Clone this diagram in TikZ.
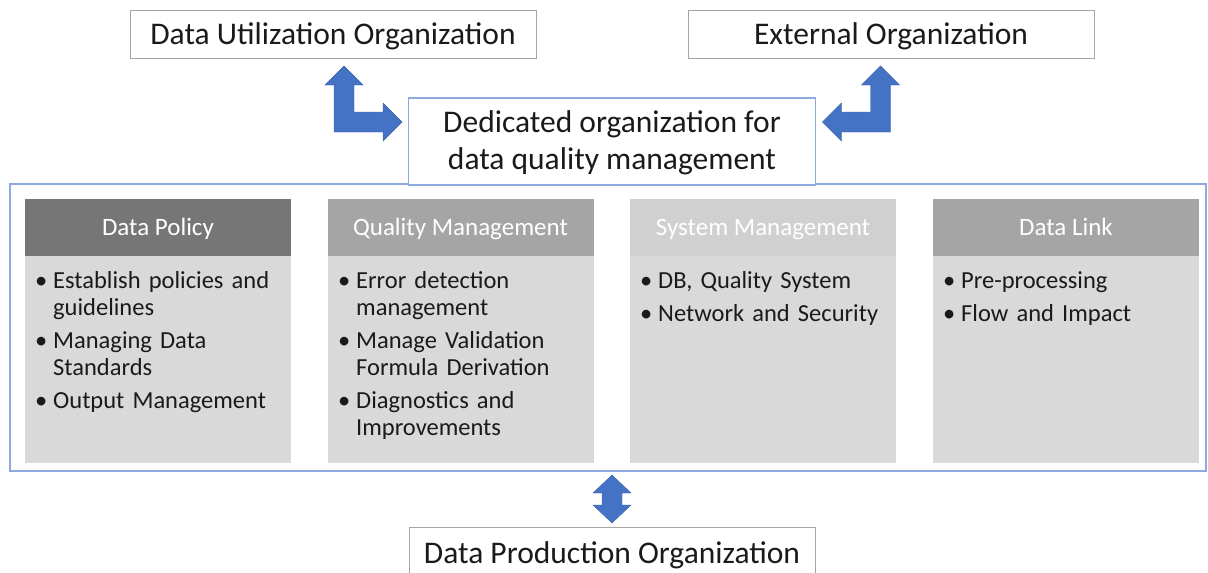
\documentclass[tikz,border=0pt]{standalone}
\usepackage{fontspec}
\setmainfont{Carlito}
\definecolor{arrowblue}{HTML}{4472C4}
\definecolor{frameblue}{HTML}{8FAADC}
\definecolor{boxgray}{HTML}{A6A6A6}
\definecolor{hdrdark}{HTML}{767676}
\definecolor{hdrmid}{HTML}{A5A5A5}
\definecolor{hdrlight}{HTML}{D0D0D0}
\definecolor{bodygray}{HTML}{D9D9D9}
\definecolor{txt}{HTML}{1A1A1A}
\newcommand{\bitem}[1]{\par\hangindent=15pt\hangafter=1\noindent\makebox[15pt][l]{\hspace{-3pt}\textbullet}#1\par\vspace{6pt}}
\begin{document}
\begin{tikzpicture}[x=1pt,y=-1pt,
  orgbox/.style={draw=boxgray, line width=1pt, fill=white, minimum width=406, minimum height=48,
    inner sep=0pt, text=txt, text height=22pt, text depth=0.6pt, font=\fontsize{31.5}{36}\selectfont},
  dedbox/.style={draw=frameblue, line width=1.2pt, fill=white, minimum width=407, minimum height=87,
    inner sep=0pt, align=center, text=txt, text depth=2.5pt, font=\fontsize{31.5}{37}\selectfont},
  frame/.style={draw=frameblue, line width=1.4pt, minimum width=1196, minimum height=287, inner sep=0pt},
  colhead/.style={minimum width=266, minimum height=57, inner sep=0pt, text=white,
    text height=20pt, text depth=5pt, font=\fontsize{25}{30}\selectfont},
  colbody/.style={fill=bodygray, minimum width=266, minimum height=207, inner sep=0pt},
  items/.style={anchor=north west, text width=255, inner sep=0pt, text=txt, align=left,
    font=\fontsize{24.5}{27}\selectfont},
  blockarrow/.style={fill=arrowblue, draw=arrowblue!85!black, line width=0.4pt}
]
\useasboundingbox (0,0) rectangle (1208,573);

% outer frame of the dedicated organization
\node[frame] (frame) at (608,327.5) {};
\node[dedbox] (ded) at (612,141.5) {Dedicated organization for\\data quality management};

% partner organizations
\node[orgbox] (util) at (333,34) {Data Utilization Organization};
\node[orgbox] (ext) at (891,34) {External Organization};
\node[orgbox, minimum height=70] (prod) at (612,562) {};
\node[text=txt, font=\fontsize{31.5}{36}\selectfont] (prodlbl) at (612,555) {Data Production Organization};

% four functional columns
\foreach \nm/\cx/\hc/\ttl in {pol/158/hdrdark/Data Policy, qm/460.5/hdrmid/Quality Management,
    sys/763/hdrlight/System Management, link/1066/hdrmid/Data Link}{
  \node[colhead, fill=\hc] (\nm h) at (\cx,227.5) {\ttl};
  \node[colbody] (\nm b) at (\cx,359.5) {};
}

\node[items] (polt) at (38,261.5) {\bitem{Establish policies and\newline guidelines}\bitem{Managing Data\newline Standards}\bitem{Output Management}};
\node[items] (qmt) at (341,261.5) {\bitem{Error detection\newline management}\bitem{Manage Validation\newline Formula Derivation}\bitem{Diagnostics and\newline Improvements}};
\node[items] (syst) at (643,261.5) {\bitem{DB, Quality System}\bitem{Network and Security}};
\node[items] (linkt) at (946,261.5) {\bitem{Pre-processing}\bitem{Flow and Impact}};

% bent two-way arrows to the partner organizations
\draw[blockarrow] (334,132) -- (334,85) -- (325,85) -- (344,66) -- (363,85) -- (354,85) -- (354,112)
  -- (383,112) -- (383,103) -- (402,122) -- (383,141) -- (383,132) -- cycle;
\draw[blockarrow] (890.5,132) -- (890.5,85) -- (899.5,85) -- (880.5,66) -- (861.5,85) -- (870.5,85) -- (870.5,112)
  -- (841.5,112) -- (841.5,103) -- (822.5,122) -- (841.5,141) -- (841.5,132) -- cycle;

% up-down arrow to data production
\draw[blockarrow] (612,475) -- (631,493) -- (622,493) -- (622,505) -- (631,505) -- (612,523)
  -- (593,505) -- (602,505) -- (602,493) -- (593,493) -- cycle;
\end{tikzpicture}
\end{document}
